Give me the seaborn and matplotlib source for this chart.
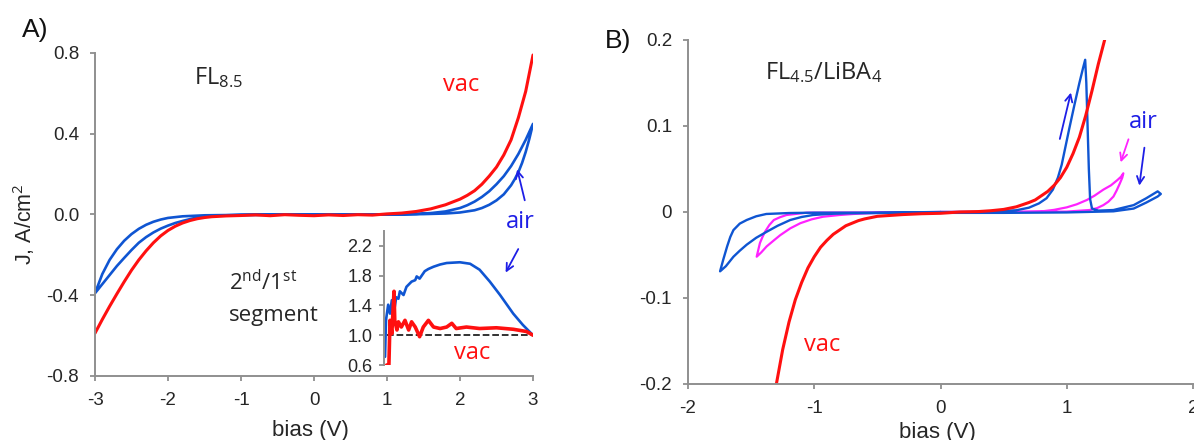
import numpy as np
import pandas as pd
import matplotlib
matplotlib.use("Agg")
import matplotlib.pyplot as plt
import seaborn as sns

# ---------------- data ----------------
# Panel A: FL8.5, J (A/cm^2) vs bias (V)
vac_a_x = [-3.0, -2.9, -2.8, -2.7, -2.6, -2.5, -2.4, -2.3, -2.2, -2.1, -2.0, -1.9, -1.8,
           -1.7, -1.6, -1.5, -1.4, -1.2, -1.0, -0.8, -0.6, -0.4, -0.2, 0.0, 0.2, 0.4, 0.6,
           0.8, 1.0, 1.2, 1.4, 1.6, 1.8, 2.0, 2.1, 2.2, 2.3, 2.4, 2.5, 2.6, 2.7, 2.8, 2.9, 3.0]
vac_a_y = [-0.588, -0.52, -0.455, -0.393, -0.333, -0.276, -0.225, -0.180, -0.140, -0.106,
           -0.079, -0.058, -0.042, -0.030, -0.021, -0.015, -0.011, -0.007, -0.005, -0.002,
           -0.006, -0.001, -0.004, -0.006, -0.002, -0.005, -0.001, -0.003, 0.003, 0.007,
           0.015, 0.028, 0.048, 0.076, 0.095, 0.118, 0.150, 0.190, 0.235, 0.295, 0.370,
           0.480, 0.610, 0.790]

air_a_x = [0.0, 1.0, 1.4, 1.6, 1.8, 2.0, 2.1, 2.2, 2.3, 2.4, 2.5, 2.6, 2.7, 2.8, 2.9, 3.0,
           2.95, 2.9, 2.85, 2.8, 2.75, 2.7, 2.6, 2.5, 2.4, 2.3, 2.2, 2.0, 1.8, 1.5, 1.0, 0.0,
           -1.0, -1.5, -1.8, -2.0, -2.1, -2.2, -2.3, -2.4, -2.5, -2.6, -2.7, -2.8, -2.9, -3.0,
           -2.9, -2.8, -2.7, -2.6, -2.5, -2.4, -2.3, -2.2, -2.1, -2.0, -1.9, -1.8, -1.7,
           -1.6, -1.5, -1.4, -1.2, -1.0, 0.0]
air_a_y = [0.0, 0.001, 0.003, 0.007, 0.015, 0.032, 0.046, 0.064, 0.087, 0.115, 0.150, 0.190,
           0.240, 0.300, 0.370, 0.449,
           0.375, 0.310, 0.255, 0.210, 0.175, 0.145, 0.100, 0.070, 0.048, 0.032, 0.021, 0.010,
           0.005, 0.002, 0.0, 0.0,
           -0.002, -0.004, -0.009, -0.017, -0.025, -0.036, -0.051, -0.071, -0.097, -0.130,
           -0.172, -0.225, -0.295, -0.390,
           -0.345, -0.300, -0.255, -0.215, -0.176, -0.140, -0.112, -0.089, -0.070, -0.055,
           -0.042, -0.032, -0.023, -0.016, -0.011, -0.008, -0.004, -0.002, 0.0]

# Inset: ratio of 2nd to 1st sweep segment
ratio_air_x = [0.977, 0.99, 1.02, 1.045, 1.07, 1.09, 1.13, 1.16, 1.18, 1.23, 1.27, 1.34, 1.39,
               1.41, 1.45, 1.52, 1.57, 1.64, 1.73, 1.82, 2.0, 2.14, 2.27, 2.41, 2.55, 2.73,
               2.86, 3.0]
ratio_air_y = [0.71, 1.20, 1.41, 1.29, 1.47, 1.25, 1.51, 1.49, 1.59, 1.54, 1.65, 1.72, 1.74,
               1.79, 1.76, 1.86, 1.89, 1.92, 1.95, 1.97, 1.98, 1.96, 1.88, 1.72, 1.54, 1.29,
               1.14, 1.00]
ratio_vac_x = [1.0, 1.03, 1.045, 1.07, 1.10, 1.11, 1.14, 1.16, 1.20, 1.25, 1.30, 1.34, 1.39,
               1.45, 1.50, 1.57, 1.64, 1.73, 1.82, 1.89, 1.95, 2.09, 2.27, 2.50, 2.73, 2.91, 3.0]
ratio_vac_y = [0.60, 0.60, 1.20, 1.02, 1.59, 1.20, 1.07, 1.18, 1.11, 1.20, 1.07, 1.18, 1.11,
               0.98, 1.11, 1.20, 1.11, 1.09, 1.11, 1.16, 1.09, 1.11, 1.09, 1.10, 1.08, 1.05, 1.00]
ratio_ref_x = [1.0, 3.0]
ratio_ref_y = [1.0, 1.0]

# Panel B: FL4.5/LiBA4
vac_b_x = [-1.30, -1.25, -1.20, -1.15, -1.10, -1.05, -1.00, -0.95, -0.90, -0.85, -0.80, -0.75,
           -0.70, -0.65, -0.60, -0.50, -0.40, -0.30, -0.15, 0.0, 0.15, 0.30, 0.40, 0.50, 0.60,
           0.70, 0.75, 0.80, 0.85, 0.90, 0.95, 1.00, 1.05, 1.10, 1.15, 1.20, 1.25, 1.30]
vac_b_y = [-0.200, -0.160, -0.128, -0.102, -0.082, -0.065, -0.052, -0.041, -0.033, -0.026,
           -0.021, -0.016, -0.013, -0.010, -0.008, -0.005, -0.004, -0.003, -0.002, -0.0015,
           0.0, 0.0005, 0.0015, 0.003, 0.006, 0.011, 0.014, 0.019, 0.024, 0.031, 0.040, 0.052,
           0.068, 0.087, 0.112, 0.141, 0.172, 0.200]

air_b_x = [0.0, 0.3, 0.6, 0.7, 0.78, 0.84, 0.89, 0.93, 0.96, 0.99, 1.02, 1.06, 1.10, 1.13,
           1.146, 1.155, 1.165, 1.175, 1.185, 1.20, 1.25, 1.37, 1.53, 1.63, 1.72, 1.745,
           1.72, 1.63, 1.53, 1.37, 1.0, 0.5, 0.0, -0.5, -0.74, -0.88, -1.01, -1.10, -1.19,
           -1.29, -1.377, -1.46, -1.535, -1.59, -1.64, -1.70, -1.746,
           -1.72, -1.69, -1.665, -1.64, -1.59, -1.535, -1.46, -1.38, -1.2, -1.0, -0.5, 0.0]
air_b_y = [0.0, 0.0, 0.002, 0.005, 0.010, 0.016, 0.026, 0.040, 0.055, 0.076, 0.097, 0.124,
           0.150, 0.168, 0.177, 0.150, 0.100, 0.050, 0.015, 0.004, 0.0016, 0.0023, 0.008,
           0.016, 0.024, 0.021, 0.018, 0.011, 0.004, 0.0008, -0.0005, -0.001, -0.001,
           -0.0012, -0.0015, -0.0022, -0.0035, -0.0058, -0.0093, -0.016, -0.023, -0.030,
           -0.038, -0.045, -0.052, -0.063, -0.069,
           -0.055, -0.040, -0.029, -0.021, -0.0135, -0.0093, -0.005, -0.0023, -0.0012,
           -0.0008, -0.0008, 0.0]

mag_b_x = [0.0, 0.5, 0.79, 0.9, 1.0, 1.08, 1.16, 1.22, 1.29, 1.35, 1.40, 1.43, 1.448, 1.44,
           1.42, 1.395, 1.37, 1.33, 1.29, 1.24, 1.18, 1.0, 0.5, 0.0, -0.5, -0.69, -0.80,
           -0.93, -1.02, -1.11, -1.19, -1.27, -1.32, -1.377, -1.42, -1.456, -1.44, -1.43,
           -1.41, -1.39, -1.355, -1.32, -1.27, -1.22, -1.06, -0.5, 0.0]
mag_b_y = [0.0, 0.0, 0.0005, 0.0025, 0.0054, 0.009, 0.014, 0.019, 0.026, 0.031, 0.037, 0.041,
           0.045, 0.040, 0.033, 0.025, 0.018, 0.012, 0.008, 0.0045, 0.0023, 0.0005, 0.0, 0.0,
           -0.001, -0.0023, -0.0035, -0.0055, -0.0085, -0.013, -0.019, -0.027, -0.033,
           -0.040, -0.047, -0.052, -0.042, -0.036, -0.029, -0.023, -0.015, -0.0093, -0.006,
           -0.0035, -0.0008, -0.0005, 0.0]

a_xticks = [-3, -2, -1, 0, 1, 2, 3]
a_yticks = [-0.8, -0.4, 0.0, 0.4, 0.8]
a_yticklabels = ["-0.8", "-0.4", "0.0", "0.4", "0.8"]
b_xticks = [-2, -1, 0, 1, 2]
b_yticks = [-0.2, -0.1, 0.0, 0.1, 0.2]
b_yticklabels = ["-0.2", "-0.1", "0", "0.1", "0.2"]
inset_yticks = [0.6, 1.0, 1.4, 1.8, 2.2]
inset_yticklabels = ["0.6", "1.0", "1.4", "1.8", "2.2"]

# ---------------- style ----------------
sns.set_style("ticks")
plt.rcParams["font.family"] = ["Liberation Sans", "DejaVu Sans"]
plt.rcParams["mathtext.fontset"] = "custom"
plt.rcParams["mathtext.rm"] = "Open Sans"
plt.rcParams["mathtext.it"] = "Open Sans:italic"
plt.rcParams["mathtext.bf"] = "Open Sans:bold"

RED = "#ff1010"
BLUE = "#0f55d2"
MAGENTA = "#ff22ff"
TXT_BLUE = "#1e1ee6"
SPINE = "#8f8f8f"
INK = "#262626"
NOTE_FONT = ["Open Sans", "DejaVu Sans"]

W, H = 1194, 440
fig = plt.figure(figsize=(W / 100, H / 100), dpi=100)
axA = fig.add_axes([95 / W, 1 - 376 / H, 438 / W, 323 / H])
axB = fig.add_axes([688 / W, 1 - 384 / H, 505 / W, 344 / H])
axI = fig.add_axes([384 / W, 1 - 365 / H, 149 / W, 134 / H])


def style_axes(ax, size=13.5):
    for side in ("top", "right"):
        ax.spines[side].set_visible(False)
    for side in ("left", "bottom"):
        ax.spines[side].set_color(SPINE)
        ax.spines[side].set_linewidth(1.4)
    ax.tick_params(colors=SPINE, labelcolor=INK, length=3.5, width=1.3,
                   labelsize=size, pad=8)
    ax.set_xlabel("")
    ax.set_ylabel("")


def trace(ax, x, y, color, lw, **kw):
    sns.lineplot(x=x, y=y, ax=ax, sort=False, estimator=None, color=color,
                 linewidth=lw, **kw)


# ---------------- panel A ----------------
trace(axA, air_a_x, air_a_y, BLUE, 1.9)
trace(axA, vac_a_x, vac_a_y, RED, 2.2)
axA.set_xlim(-3, 3)
axA.set_ylim(-0.8, 0.8)
axA.set_xticks(a_xticks)
axA.set_xticklabels([str(t) for t in a_xticks])
axA.set_yticks(a_yticks)
axA.set_yticklabels(a_yticklabels)
style_axes(axA)

axA.text(-1.64, 0.676, "FL$_{8.5}$", fontsize=17, family=NOTE_FONT, va="center", ha="left")
axA.text(2.01, 0.641, "vac", fontsize=17, family=NOTE_FONT, color=RED, va="center", ha="center")
axA.text(2.82, -0.036, "air", fontsize=17, family=NOTE_FONT, color=TXT_BLUE, va="center",
         ha="center", clip_on=False)
axA.text(-1.164, -0.339, "2$^{\\mathrm{nd}}$/1$^{\\mathrm{st}}$", fontsize=16,
         family=NOTE_FONT, va="center", ha="left")
axA.text(-1.164, -0.498, "segment", fontsize=16, family=NOTE_FONT, va="center", ha="left")
axA.text(2.16, -0.687, "vac", fontsize=17, family=NOTE_FONT, color=RED, va="center", ha="center")
arrow_kw = dict(arrowstyle="->", lw=1.3, mutation_scale=13)
axA.annotate("", xy=(2.775, 0.237), xytext=(2.896, 0.057),
             arrowprops=dict(color=TXT_BLUE, **arrow_kw))
axA.annotate("", xy=(2.607, -0.30), xytext=(2.816, -0.159),
             arrowprops=dict(color=TXT_BLUE, **arrow_kw))

# ---------------- inset ----------------
axI.patch.set_alpha(0)
trace(axI, ratio_ref_x, ratio_ref_y, "#222222", 1.3, linestyle="--")
trace(axI, ratio_air_x, ratio_air_y, BLUE, 1.9)
trace(axI, ratio_vac_x, ratio_vac_y, RED, 2.6)
axI.set_xlim(0.963, 3.0)
axI.set_ylim(0.6, 2.4)
axI.set_yticks(inset_yticks)
axI.set_yticklabels(inset_yticklabels)
style_axes(axI, size=13)
axI.spines["bottom"].set_visible(False)
axI.set_xticks([])
axI.tick_params(axis="y", pad=5)

# ---------------- panel B ----------------
trace(axB, mag_b_x, mag_b_y, MAGENTA, 1.6)
trace(axB, air_b_x, air_b_y, BLUE, 1.7)
trace(axB, vac_b_x, vac_b_y, RED, 2.2)
axB.set_xlim(-2, 2)
axB.set_ylim(-0.2, 0.2)
axB.set_xticks(b_xticks)
axB.set_xticklabels([str(t) for t in b_xticks])
axB.set_yticks(b_yticks)
axB.set_yticklabels(b_yticklabels)
style_axes(axB)

axB.text(-1.39, 0.162, "FL$_{4.5}$/LiBA$_{4}$", fontsize=17, family=NOTE_FONT,
         va="center", ha="left")
axB.text(1.61, 0.105, "air", fontsize=17, family=NOTE_FONT, color=TXT_BLUE,
         va="center", ha="center")
axB.text(-0.94, -0.155, "vac", fontsize=17, family=NOTE_FONT, color=RED,
         va="center", ha="center")
axB.annotate("", xy=(1.038, 0.142), xytext=(0.94, 0.0818),
             arrowprops=dict(color=TXT_BLUE, **arrow_kw))
axB.annotate("", xy=(1.42, 0.0547), xytext=(1.496, 0.0876),
             arrowprops=dict(color=MAGENTA, **arrow_kw))
axB.annotate("", xy=(1.572, 0.0275), xytext=(1.618, 0.078),
             arrowprops=dict(color=TXT_BLUE, **arrow_kw))

# ---------------- labels ----------------
fig.text(24 / W, 1 - 224 / H, "J, A/cm$^2$", rotation=90, fontsize=15.5, color=INK,
         ha="center", va="center")
fig.text(310 / W, 1 - 430 / H, "bias (V)", fontsize=16, color=INK,
         ha="center", va="center")
fig.text(937 / W, 1 - 432 / H, "bias (V)", fontsize=16, color=INK,
         ha="center", va="center")
fig.text(22 / W, 1 - 30 / H, "A)", fontsize=19, color="#111111", ha="left", va="center")
fig.text(605 / W, 1 - 41 / H, "B)", fontsize=19, color="#111111", ha="left", va="center")

fig.savefig("out.png", dpi=100)
